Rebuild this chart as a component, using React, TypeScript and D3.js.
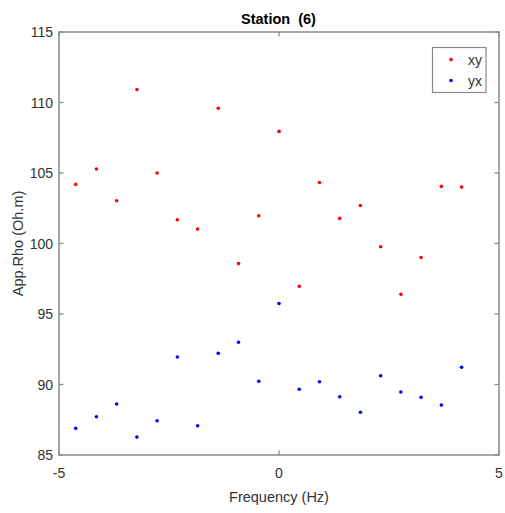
import React from "react";
import * as d3 from "d3";

const freq = [-4.62, -4.15, -3.69, -3.23, -2.77, -2.31, -1.85, -1.38, -0.92, -0.46, 0, 0.46, 0.92, 1.38, 1.85, 2.31, 2.77, 3.23, 3.69, 4.15];
const xyValues = [104.19, 105.28, 103.03, 110.92, 105.0, 101.68, 101.02, 109.59, 98.58, 101.97, 107.95, 96.97, 104.33, 101.78, 102.7, 99.77, 96.4, 99.01, 104.05, 104.0];
const yxValues = [86.89, 87.71, 88.62, 86.27, 87.43, 91.95, 87.07, 92.22, 93.0, 90.23, 95.74, 89.66, 90.2, 89.13, 88.03, 90.62, 89.47, 89.09, 88.54, 91.22];
const xTicks = [-5, 0, 5];
const yTicks = [85, 90, 95, 100, 105, 110, 115];
const seriesNames = ["xy", "yx"];
const seriesColors = ["#ff0000", "#0000ff"];

export default function App() {
  const W = 505, H = 513;
  const left = 59, right = 499, top = 32, bottom = 455;
  const x = d3.scaleLinear().domain([-5, 5]).range([left, right]);
  const y = d3.scaleLinear().domain([85, 115]).range([bottom, top]);
  const font = "Liberation Sans, Arial, sans-serif";
  const axisColor = "#8a8a8a";
  const tickLen = 4.5;
  const series = [xyValues, yxValues];
  return (
    <svg width={W} height={H} style={{ position: "absolute", left: 0, top: 0, background: "#fff" }} fontFamily={font}>
      <rect x={0} y={0} width={W} height={H} fill="#fff" />
      {/* ticks */}
      {xTicks.map((t) => (
        <g key={"xt" + t}>
          <line x1={x(t)} x2={x(t)} y1={bottom} y2={bottom - tickLen} stroke={axisColor} strokeWidth={1.3} />
          <line x1={x(t)} x2={x(t)} y1={top} y2={top + tickLen} stroke={axisColor} strokeWidth={1.3} />
          <text x={x(t)} y={473} fontSize={14} fill="#333" textAnchor="middle" dominantBaseline="central">{t === 0 ? "0" : String(t)}</text>
        </g>
      ))}
      {yTicks.map((t) => (
        <g key={"yt" + t}>
          <line x1={left} x2={left + tickLen} y1={y(t)} y2={y(t)} stroke={axisColor} strokeWidth={1.3} />
          <line x1={right} x2={right - tickLen} y1={y(t)} y2={y(t)} stroke={axisColor} strokeWidth={1.3} />
          <text x={53} y={y(t)} fontSize={14} fill="#333" textAnchor="end" dominantBaseline="central">{t}</text>
        </g>
      ))}
      <rect x={left} y={top} width={right - left} height={bottom - top} fill="none" stroke={axisColor} strokeWidth={1.5} />
      {/* points */}
      {series.map((vals, si) =>
        vals.map((v, i) => (
          <circle key={si + "-" + i} cx={x(freq[i])} cy={y(v)} r={1.8} fill={seriesColors[si]} />
        ))
      )}
      {/* title */}
      <text x={278.5} y={19} fontSize={14.5} fontWeight="bold" fill="#000" textAnchor="middle" dominantBaseline="central" style={{ whiteSpace: "pre" }}>Station  (6)</text>
      {/* axis labels */}
      <text x={279} y={497} fontSize={14.5} fill="#333" textAnchor="middle" dominantBaseline="central">Frequency (Hz)</text>
      <text transform={`translate(18, ${(top + bottom) / 2}) rotate(-90)`} fontSize={14.5} fill="#333" textAnchor="middle" dominantBaseline="central">App.Rho (Oh.m)</text>
      {/* legend */}
      <rect x={432.5} y={47.5} width={53.5} height={45} fill="#fff" stroke={axisColor} strokeWidth={1.2} />
      {seriesNames.map((n, i) => (
        <g key={n}>
          <circle cx={451} cy={59.5 + i * 21} r={1.8} fill={seriesColors[i]} />
          <text x={468} y={60 + i * 21} fontSize={14} fill="#333" dominantBaseline="central">{n}</text>
        </g>
      ))}
    </svg>
  );
}
